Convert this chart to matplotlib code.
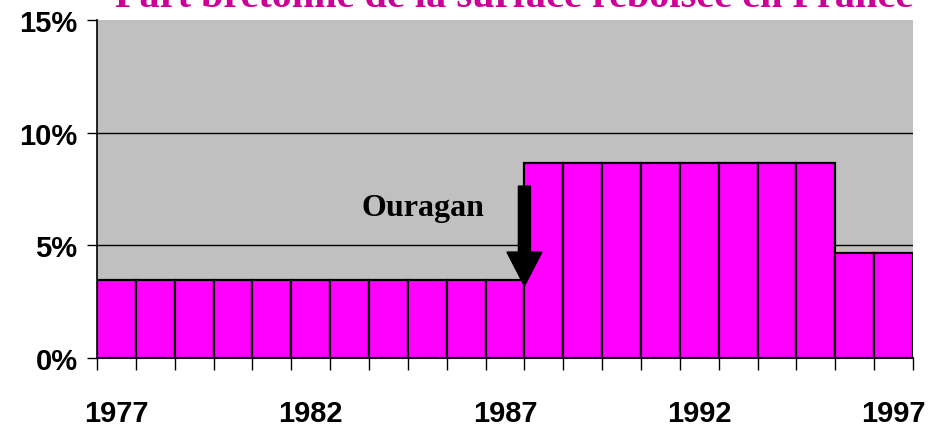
import matplotlib
matplotlib.use('Agg')
import matplotlib.pyplot as plt

# données (part bretonne, en %)
annees = [1977, 1978, 1979, 1980, 1981, 1982, 1983, 1984, 1985, 1986, 1987,
          1988, 1989, 1990, 1991, 1992, 1993, 1994, 1995, 1996, 1997]
part = [3.46, 3.46, 3.46, 3.46, 3.46, 3.46, 3.46, 3.46, 3.46, 3.46, 3.46,
        8.65, 8.65, 8.65, 8.65, 8.65, 8.65, 8.65, 8.65, 4.66, 4.66]
annees_affichees = [1977, 1982, 1987, 1992, 1997]
y_ticks = [0, 5, 10, 15]

titre = 'Part bretonne de la surface reboisée en France'
annotation = 'Ouragan'

W, H = 929, 427
fig = plt.figure(figsize=(W / 100, H / 100), dpi=100)
ax = fig.add_axes([97 / W, 1 - 359 / H, (913 - 97) / W, (359 - 21) / H])
ax.set_facecolor('#C0C0C0')

x = list(range(len(annees)))
ax.bar(x, part, width=1.0, align='edge', color='#FF00FF',
       edgecolor='black', linewidth=1.6, zorder=3)

ax.set_xlim(0, len(annees))
ax.set_ylim(0, 15)

# axe y
ax.set_yticks(y_ticks)
ax.set_yticklabels(['{}%'.format(v) for v in y_ticks])
ax.yaxis.grid(True, color='black', linewidth=1.0, zorder=1)
for gl, v in zip(ax.get_ygridlines(), y_ticks):
    if v in (0, 15):
        gl.set_visible(False)
ax.tick_params(axis='y', length=7, width=1, pad=7, labelsize=21)

# axe x : libellés au centre des barres, graduations entre les barres
ax.set_xticks([annees.index(a) + 0.5 for a in annees_affichees])
ax.set_xticklabels([str(a) for a in annees_affichees])
ax.set_xticks(range(len(annees) + 1), minor=True)
ax.tick_params(axis='x', which='major', length=0, pad=29.5, labelsize=21)
ax.tick_params(axis='x', which='minor', length=8.5, width=1)

for lab in ax.get_xticklabels() + ax.get_yticklabels():
    lab.set_fontfamily('Liberation Sans')
    lab.set_fontweight('bold')

ax.spines['top'].set_visible(False)
ax.spines['right'].set_visible(False)
ax.spines['left'].set_linewidth(1.2)
ax.spines['bottom'].set_linewidth(1.5)
ax.set_axisbelow(True)

# flèche ouragan
ax.arrow(11, 7.63, 0, -(7.63 - 3.2), width=0.31, head_width=0.9,
         head_length=1.5, length_includes_head=True, color='black', zorder=6)
ax.text(8.39, 6.35, annotation, ha='center', va='baseline',
        fontfamily='Liberation Serif', fontweight='bold', fontsize=23, zorder=6)

fig.text(514 / W, 1 - 7 / H, titre, ha='center', va='baseline', color='#CC0099',
         fontfamily='Liberation Serif', fontweight='bold', fontsize=29)

fig.savefig('out.png', dpi=100)
